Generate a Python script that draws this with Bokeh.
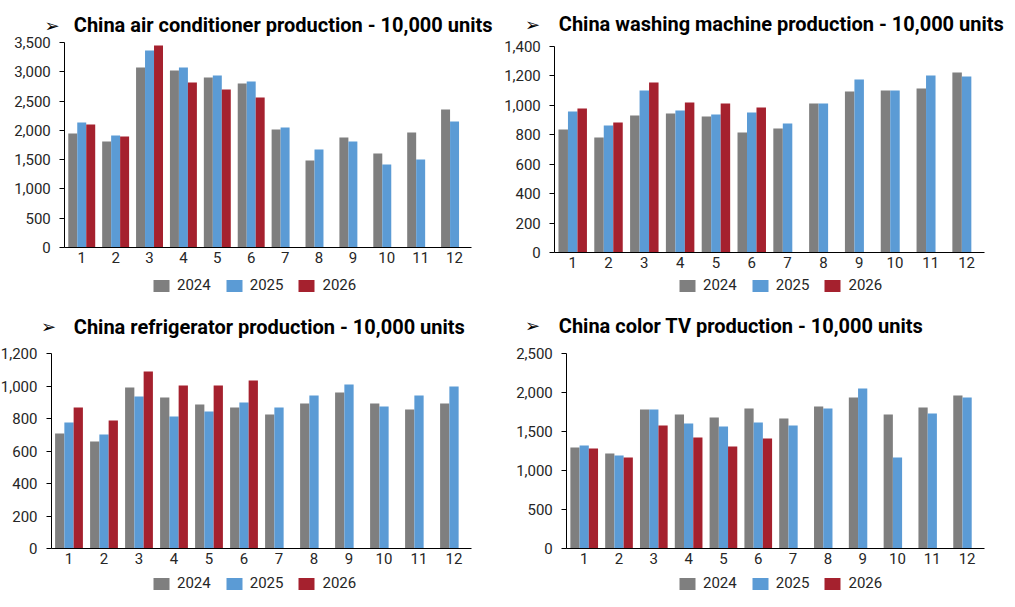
from bokeh.plotting import figure
from bokeh.layouts import column, row
from bokeh.models import (ColumnDataSource, FixedTicker, NumeralTickFormatter,
                          Legend, LegendItem, Range1d, Label)
from bokeh.transform import dodge
from bokeh.embed import file_html
from bokeh.resources import INLINE

# ---------------- data ----------------
months = list(range(1, 13))
years = ["2024", "2025", "2026"]

ac_2024 = [1946, 1810, 3073, 3022, 2902, 2800, 2015, 1485, 1878, 1605, 1963, 2356]
ac_2025 = [2134, 1912, 3363, 3073, 2937, 2834, 2049, 1673, 1810, 1417, 1502, 2151]
ac_2026 = [2100, 1895, 3449, 2817, 2698, 2561]

wm_2024 = [836, 782, 931, 945, 924, 816, 843, 1013, 1094, 1101, 1115, 1223]
wm_2025 = [958, 863, 1101, 965, 938, 951, 877, 1013, 1176, 1101, 1203, 1196]
wm_2026 = [979, 884, 1155, 1019, 1013, 985]

rf_2024 = [709, 660, 992, 931, 888, 869, 826, 894, 962, 894, 857, 894]
rf_2025 = [777, 703, 937, 814, 845, 900, 869, 943, 1011, 875, 943, 999]
rf_2026 = [869, 789, 1091, 1005, 1005, 1036]

tv_2024 = [1297, 1220, 1785, 1721, 1682, 1798, 1670, 1824, 1939, 1721, 1811, 1965]
tv_2025 = [1323, 1194, 1785, 1605, 1567, 1618, 1580, 1798, 2055, 1169, 1734, 1939]
tv_2026 = [1284, 1169, 1580, 1426, 1310, 1413]

titles = ["China air conditioner production - 10,000 units",
          "China washing machine production - 10,000 units",
          "China refrigerator production - 10,000 units",
          "China color TV production - 10,000 units"]
y_max = [3500, 1400, 1200, 2500]
y_step = [500, 200, 200, 500]

# ---------------- style ----------------
COLORS = ["#7F7F7F", "#5B9BD5", "#A5212E"]
FONT = "Roboto"
TXT = "#262626"
BAR_W = 0.265
OFFSETS = [-BAR_W, 0.0, BAR_W]


def make_chart(title, series, ymax, ystep, g):
    W, H = g["W"], g["H"]
    L, R, T, Z = g["L"], g["R"], g["T"], g["Z"]   # plot-area pixels inside figure
    c = (R - L) / 12.0                             # px per month
    s = (Z - T) / float(ymax)                      # px per unit
    x_lo, x_hi = 0.5 - L / c, 12.5 + (W - R) / c
    y_lo, y_hi = -(H - Z) / s, ymax + T / s

    p = figure(width=W, height=H, title=None,
               min_border_left=0, min_border_right=0,
               min_border_top=0, min_border_bottom=0,
               x_range=Range1d(x_lo, x_hi), y_range=Range1d(y_lo, y_hi),
               output_backend="svg", toolbar_location=None,
               background_fill_color="white", border_fill_color="white")
    p.outline_line_color = None
    p.grid.visible = False

    items = []
    for yr, vals, col, off in zip(years, series, COLORS, OFFSETS):
        src = ColumnDataSource(dict(m=months[:len(vals)], v=vals))
        r = p.vbar(x=dodge("m", off), top="v", width=BAR_W, source=src,
                   fill_color=col, line_color=None)
        items.append(LegendItem(label=yr, renderers=[r]))

    xa = p.xaxis[0]
    xa.fixed_location = 0
    xa.bounds = (0.5, 12.5)
    xa.ticker = FixedTicker(ticks=months)
    xa.major_tick_line_color = None
    xa.minor_tick_line_color = None
    xa.axis_line_color = "#000000"
    xa.axis_line_width = 1
    xa.major_label_text_font = FONT
    xa.major_label_text_font_size = "15px"
    xa.major_label_text_color = TXT
    xa.major_label_standoff = -2

    ya = p.yaxis[0]
    ya.fixed_location = 0.5
    ya.bounds = (0, ymax)
    ya.ticker = FixedTicker(ticks=list(range(0, ymax + 1, ystep)))
    ya.formatter = NumeralTickFormatter(format="0,0")
    ya.minor_tick_line_color = None
    ya.major_tick_in = 0
    ya.major_tick_out = 5
    ya.major_tick_line_color = "#000000"
    ya.axis_line_color = "#000000"
    ya.major_label_text_font = FONT
    ya.major_label_text_font_size = "15px"
    ya.major_label_text_color = TXT
    ya.major_label_standoff = 9

    # title: arrow bullet + bold text (screen units from frame bottom-left)
    p.add_layout(Label(x=g["ax"], y=H - g["ty"], x_units="screen", y_units="screen",
                       text="\u27a2", text_font="DejaVu Sans", text_font_size="18px",
                       text_color="#000000", text_baseline="middle", text_align="left"))
    p.add_layout(Label(x=g["tx"], y=H - g["ty"], x_units="screen", y_units="screen",
                       text=title, text_font=FONT, text_font_size="20px",
                       text_font_style="bold", text_color="#000000",
                       text_baseline="middle", text_align="left"))

    leg = Legend(items=items, location=(g["lx"], H - g["lb"]), orientation="horizontal",
                 glyph_width=20, glyph_height=15, label_height=15,
                 label_standoff=6, spacing=13, padding=0, margin=0,
                 label_text_font=FONT, label_text_font_size="15px",
                 label_text_color=TXT, border_line_color=None,
                 background_fill_alpha=0)
    p.add_layout(leg)
    return p


geos = [
    dict(W=503, H=300, L=64.3, R=471, T=42, Z=247, tx=73.3, ax=44, ty=24.5, lx=151, lb=294),
    dict(W=512, H=300, L=51.3, R=481, T=46, Z=252, tx=55.3, ax=21.5, ty=23.5, lx=174, lb=294),
    dict(W=503, H=307, L=51, R=471, T=53.3, Z=248, tx=73.3, ax=40.5, ty=26, lx=151, lb=292),
    dict(W=512, H=307, L=63.3, R=481, T=53.3, Z=248, tx=55.3, ax=21.5, ty=25, lx=174, lb=292),
]
all_series = [(ac_2024, ac_2025, ac_2026), (wm_2024, wm_2025, wm_2026),
              (rf_2024, rf_2025, rf_2026), (tv_2024, tv_2025, tv_2026)]

plots = [make_chart(t, s, ym, st, g)
         for t, s, ym, st, g in zip(titles, all_series, y_max, y_step, geos)]

layout = column(row(plots[0], plots[1]), row(plots[2], plots[3]))
open("out.html", "w").write(file_html(layout, INLINE))
